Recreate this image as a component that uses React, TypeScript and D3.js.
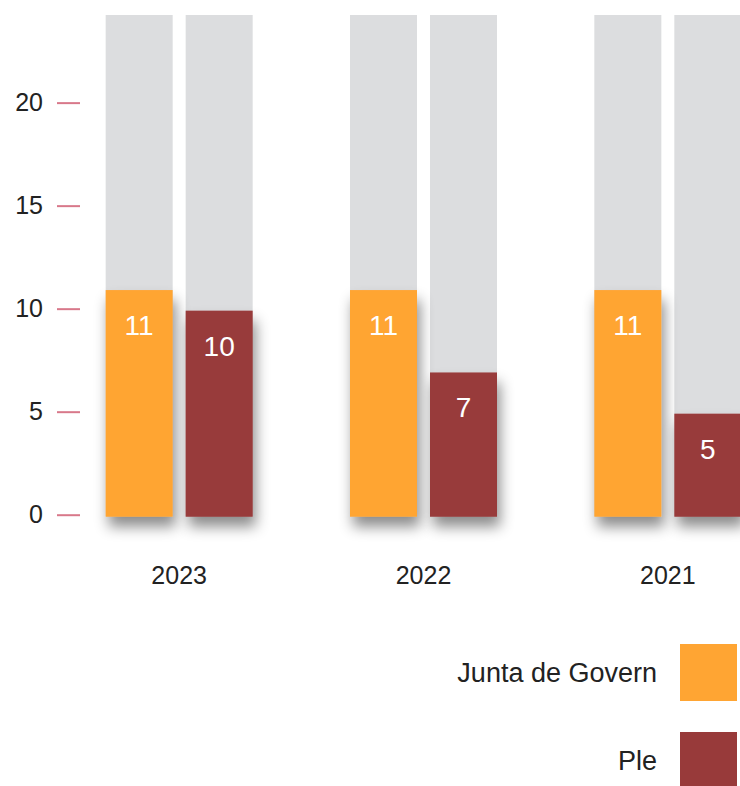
import { scaleBand, scaleLinear } from "d3";

const years = ["2023", "2022", "2021"];
const seriesNames = ["Junta de Govern", "Ple"];
const juntaValues = [11, 11, 11];
const pleValues = [10, 7, 5];
const yTicks = [0, 5, 10, 15, 20];
const yMax = 24.35;

const colors = ["#FFA533", "#983A3A"];
const font = "'Liberation Sans', Arial, Helvetica, sans-serif";

function App() {
  const width = 740;
  const height = 786;
  const top = 15;
  const bottom = 516.7;

  const y = scaleLinear().domain([0, yMax]).range([bottom, top]);
  const x = scaleBand().domain(years).range([57, 790]);
  const inner = scaleBand()
    .domain(seriesNames)
    .range([0, 147])
    .paddingInner(0.1625);

  const rows = years.map((yr, i) => ({
    year: yr,
    values: [juntaValues[i], pleValues[i]],
  }));

  return (
    <svg
      width={width}
      height={height}
      style={{ position: "absolute", left: 0, top: 0 }}
    >
      <defs>
        <filter id="shadow" x="-40%" y="-30%" width="180%" height="160%">
          <feDropShadow
            dx="3"
            dy="10"
            stdDeviation="7"
            floodColor="#000"
            floodOpacity="0.45"
          />
        </filter>
      </defs>
      <rect width={width} height={height} fill="#fff" />

      {/* y axis */}
      {yTicks.map((t) => (
        <g key={t} transform={`translate(0,${y(t) - 1.5})`}>
          <line x1={57} x2={80} stroke="#D8788A" strokeWidth={2} />
          <text
            x={43}
            dy="0.3em"
            textAnchor="end"
            fontFamily={font}
            fontSize={25}
            fill="#222"
          >
            {t}
          </text>
        </g>
      ))}

      {rows.map((r) => {
        const gx = x(r.year)! + x.bandwidth() / 2 - 73.5;
        return (
          <g key={r.year} transform={`translate(${gx},0)`}>
            {seriesNames.map((s) => (
              <rect
                key={"bg" + s}
                x={inner(s)}
                y={top}
                width={inner.bandwidth()}
                height={bottom - top}
                fill="#DCDDDF"
              />
            ))}
            {seriesNames.map((s, j) => (
              <rect
                key={s}
                x={inner(s)}
                y={y(r.values[j])}
                width={inner.bandwidth()}
                height={bottom - y(r.values[j])}
                fill={colors[j]}
                filter="url(#shadow)"
              />
            ))}
            {seriesNames.map((s, j) => (
              <text
                key={"v" + s}
                x={inner(s)! + inner.bandwidth() / 2}
                y={y(r.values[j]) + 45}
                textAnchor="middle"
                fontFamily={font}
                fontSize={28}
                fill="#fff"
              >
                {r.values[j]}
              </text>
            ))}
            <text
              x={73.5}
              y={584}
              textAnchor="middle"
              fontFamily={font}
              fontSize={25}
              fill="#222"
            >
              {r.year}
            </text>
          </g>
        );
      })}

      {/* legend */}
      {seriesNames.map((s, j) => (
        <g key={"lg" + s} transform={`translate(0,${644 + j * 88})`}>
          <rect x={680} y={0} width={57} height={57} fill={colors[j]} />
          <text
            x={657}
            y={38}
            textAnchor="end"
            fontFamily={font}
            fontSize={27}
            fill="#222"
          >
            {s}
          </text>
        </g>
      ))}
    </svg>
  );
}

export default App;
